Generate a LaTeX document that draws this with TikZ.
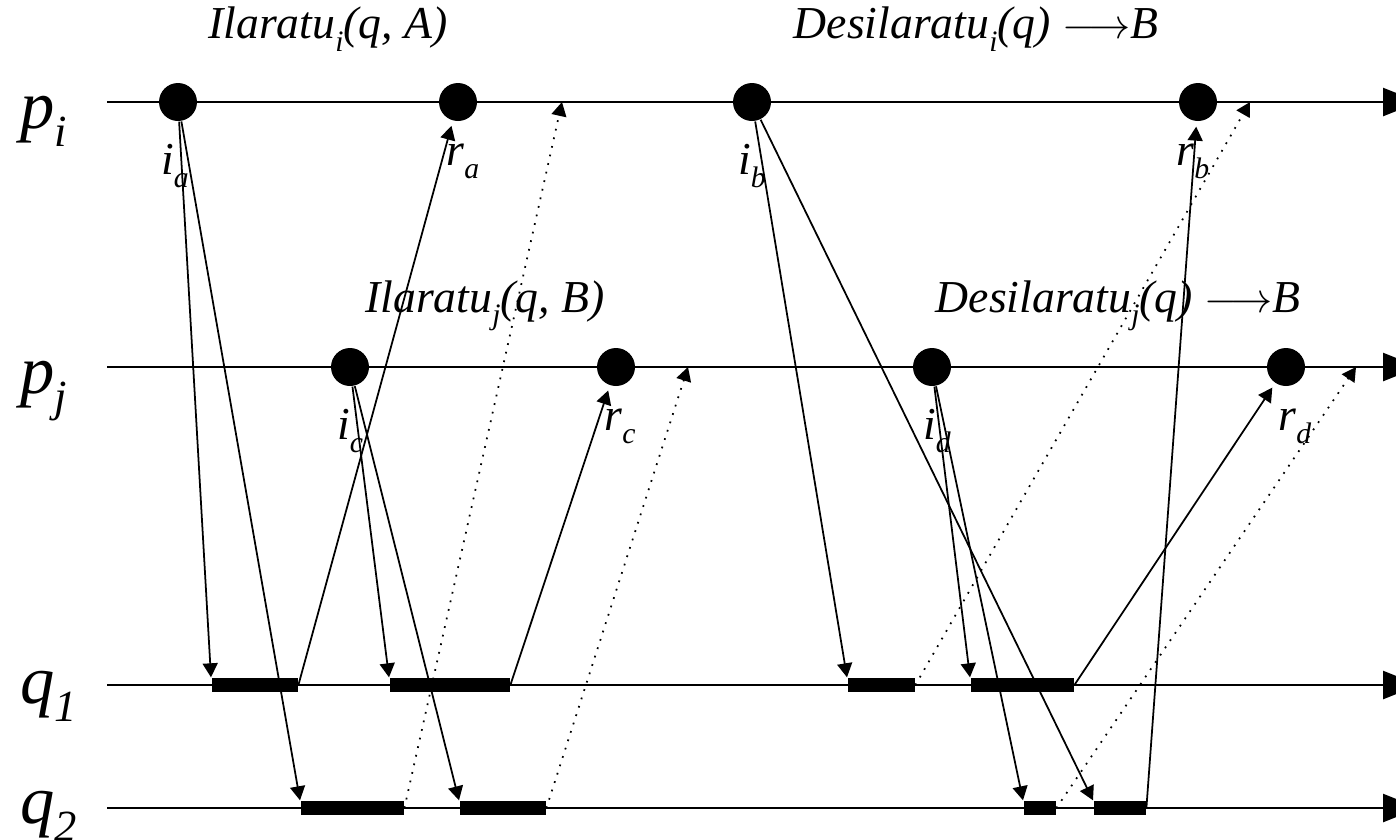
\documentclass[tikz,border=0pt]{standalone}
\usepackage{fontspec}
\setmainfont{Liberation Serif}
\usepackage{graphicx}
\usetikzlibrary{arrows.meta, positioning, calc}

\newcommand{\lowsub}[1]{\raisebox{-0.27em}{\scalebox{0.65}{#1}}}

\begin{document}
\begin{tikzpicture}[
    proc/.style={
        font=\fontsize{19.5}{19.5}\selectfont\itshape,
        anchor=base west,
        inner sep=0
    },
    event/.style={
        circle,
        fill,
        minimum size=0.38cm,
        inner sep=0
    },
    evlabel/.style={
        font=\fontsize{13}{13}\selectfont\itshape,
        inner sep=0
    },
    optitle/.style={
        font=\fontsize{13}{13}\selectfont\itshape,
        inner sep=0
    },
    win/.style={
        rectangle,
        fill,
        minimum height=0.14cm,
        inner sep=0,
        anchor=west
    },
    timeline/.style={-{Triangle[length=0.36cm, width=0.28cm]}, line width=0.75pt},
    msg/.style={-{Triangle[length=0.14cm, width=0.15cm]}, line width=0.5pt},
    reply/.style={msg, shorten >=0.05cm},
    late/.style={msg, dotted}
]
\useasboundingbox (0,0) rectangle (13.96,-8.39);

% Process names
\node (pi) [proc] at (0.2,-1.28) {p\lowsub{i}};
\node (pj) [proc] at (0.2,-3.93) {p\lowsub{j}};
\node (q1) [proc] at (0.2,-7.03) {q\lowsub{1}};
\node (q2) [proc] at (0.2,-8.23) {q\lowsub{2}};

% Time lines
\coordinate (pi-s) at (1.07,-1.02);
\coordinate (pi-e) at (14.19,-1.02);
\coordinate (pj-s) at (1.07,-3.67);
\coordinate (pj-e) at (14.19,-3.67);
\coordinate (q1-s) at (1.07,-6.85);
\coordinate (q1-e) at (14.19,-6.85);
\coordinate (q2-s) at (1.07,-8.08);
\coordinate (q2-e) at (14.19,-8.08);

\draw[timeline] (pi-s) -- (pi-e);
\draw[timeline] (pj-s) -- (pj-e);
\draw[timeline] (q1-s) -- (q1-e);
\draw[timeline] (q2-s) -- (q2-e);

% Invocation and response events
\node (ia) [event] at (1.78,-1.02) {};
\node (ra) [event] at (4.58,-1.02) {};
\node (ib) [event] at (7.52,-1.02) {};
\node (rb) [event] at (11.98,-1.02) {};
\node (ic) [event] at (3.50,-3.67) {};
\node (rc) [event] at (6.16,-3.67) {};
\node (id) [event] at (9.32,-3.67) {};
\node (rd) [event] at (12.86,-3.67) {};

\node (ia-l) [evlabel, below=0.22cm of ia, xshift=-0.03cm] {i\lowsub{a}};
\node (ra-l) [evlabel, below=0.22cm of ra, xshift=0.05cm] {r\lowsub{a}};
\node (ib-l) [evlabel, below=0.22cm of ib] {i\lowsub{b}};
\node (rb-l) [evlabel, below=0.22cm of rb, xshift=-0.05cm] {r\lowsub{b}};
\node (ic-l) [evlabel, below=0.22cm of ic] {i\lowsub{c}};
\node (rc-l) [evlabel, below=0.22cm of rc, xshift=0.04cm] {r\lowsub{c}};
\node (id-l) [evlabel, below=0.22cm of id, xshift=0.05cm] {i\lowsub{d}};
\node (rd-l) [evlabel, below=0.22cm of rd, xshift=0.09cm] {r\lowsub{d}};

% Operation names
\node (ta) [optitle] at (3.28,-0.29) {Ilaratu\lowsub{i}(q, A)};
\node (tb) [optitle] at (9.76,-0.29) {Desilaratu\lowsub{i}(q) $\longrightarrow$B};
\node (tc) [optitle] at (4.85,-3.06) {Ilaratu\lowsub{j}(q, B)};
\node (td) [optitle] at (11.18,-3.06) {Desilaratu\lowsub{j}(q) $\longrightarrow$B};

% Server windows
\node (a1) [win, minimum width=0.86cm] at (2.11,-6.85) {};
\node (c1) [win, minimum width=1.20cm] at (3.89,-6.85) {};
\node (b1) [win, minimum width=0.67cm] at (8.47,-6.85) {};
\node (d1) [win, minimum width=1.03cm] at (9.70,-6.85) {};
\node (a2) [win, minimum width=1.03cm] at (3.00,-8.08) {};
\node (c2) [win, minimum width=0.86cm] at (4.59,-8.08) {};
\node (d2) [win, minimum width=0.32cm] at (10.23,-8.08) {};
\node (b2) [win, minimum width=0.52cm] at (10.93,-8.08) {};

% Late replies land here
\coordinate (la) at (5.62,-1.02);
\coordinate (lc) at (6.88,-3.67);
\coordinate (lb) at (12.50,-1.02);
\coordinate (ld) at (13.56,-3.67);

% Requests
\draw[msg] (ia) -- (a1.north west);
\draw[msg] (ia) -- (a2.north west);
\draw[msg] (ic) -- (c1.north west);
\draw[msg] (ic) -- (c2.north west);
\draw[msg] (ib) -- (b1.north west);
\draw[msg] (ib) -- (b2.north west);
\draw[msg] (id) -- (d1.north west);
\draw[msg] (id) -- (d2.north west);

% Replies
\draw[reply] (a1.east) -- (ra);
\draw[reply] (c1.east) -- (rc);
\draw[reply] (d1.east) -- (rd);
\draw[reply] (b2.east) -- (rb);
\draw[late] (a2.east) -- (la);
\draw[late] (c2.east) -- (lc);
\draw[late] (b1.east) -- (lb);
\draw[late] (d2.east) -- (ld);

\end{tikzpicture}
\end{document}
